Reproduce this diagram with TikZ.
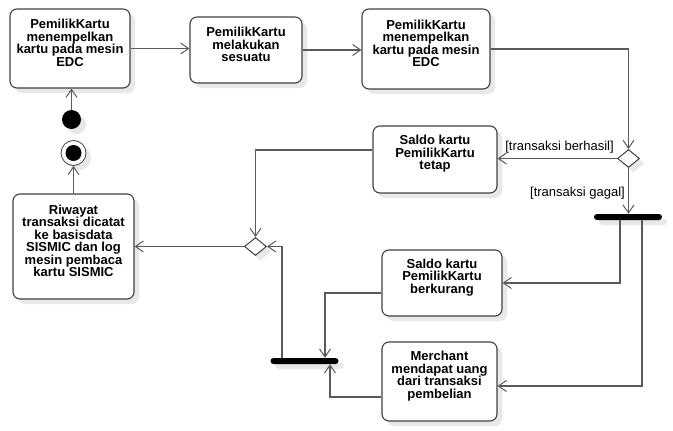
\documentclass[tikz,border=0pt]{standalone}
\usepackage{fontspec}
\setmainfont{Liberation Sans}
\usetikzlibrary{arrows.meta,shadows,shapes.geometric}
\definecolor{boxgray}{HTML}{404040}
\definecolor{linegray}{HTML}{5A5A5A}
\definecolor{shadowgray}{HTML}{E8E8E8}

\begin{document}
\begin{tikzpicture}[x=1pt,y=-1pt,
    softshadow/.style={drop shadow={shadow xshift=5pt,shadow yshift=-5pt,fill=shadowgray,opacity=1}},
    action/.style={rectangle,draw=boxgray,line width=1.1pt,rounded corners=7pt,fill=white,softshadow},
    acttext/.style={font=\bfseries\fontsize{13}{12.5}\selectfont,align=center,inner sep=0pt,yshift=5.5pt},
    decision/.style={diamond,draw=boxgray,line width=1pt,fill=white,inner sep=0pt,minimum width=22pt,minimum height=18pt,softshadow},
    syncbar/.style={rectangle,fill=black,rounded corners=3pt,inner sep=0pt,minimum width=68pt,minimum height=6pt,softshadow},
    guard/.style={font=\fontsize{13}{13}\selectfont,inner sep=0pt},
    flow/.style={draw=linegray,line width=1.1pt,-{Straight Barb[length=8pt,width=11pt,line width=1pt]}}]

    \useasboundingbox[fill=white] (0,0) rectangle (673,431);

    \node[action,minimum width=120pt,minimum height=79pt] (tempel) at (70,48.5) {};
    \node[action,minimum width=112pt,minimum height=66pt] (lakukan) at (246,50) {};
    \node[action,minimum width=128pt,minimum height=80pt] (tempelDua) at (426,49) {};
    \node[action,minimum width=124pt,minimum height=67pt] (tetap) at (435,159.5) {};
    \node[action,minimum width=121pt,minimum height=105pt] (riwayat) at (73.5,246.5) {};
    \node[action,minimum width=120pt,minimum height=66pt] (kurang) at (442,283) {};
    \node[action,minimum width=115pt,minimum height=79pt] (merchant) at (439.5,381.5) {};

    \node[acttext] (tempelTxt) at (tempel.center) {PemilikKartu\\menempelkan\\kartu pada mesin\\EDC};
    \node[acttext] (lakukanTxt) at (lakukan.center) {PemilikKartu\\melakukan\\sesuatu};
    \node[acttext] (tempelDuaTxt) at (tempelDua.center) {PemilikKartu\\menempelkan\\kartu pada mesin\\EDC};
    \node[acttext] (tetapTxt) at (tetap.center) {Saldo kartu\\PemilikKartu\\tetap};
    \node[acttext] (riwayatTxt) at (riwayat.center) {Riwayat\\transaksi dicatat\\ke basisdata\\SISMIC dan log\\mesin pembaca\\kartu SISMIC};
    \node[acttext] (kurangTxt) at (kurang.center) {Saldo kartu\\PemilikKartu\\berkurang};
    \node[acttext] (merchantTxt) at (merchant.center) {Merchant\\mendapat uang\\dari transaksi\\pembelian};

    \node[decision] (cekHasil) at (628.5,158.5) {};
    \node[decision] (gabung) at (255.5,246.5) {};
    \node[syncbar] (pecah) at (628,217) {};
    \node[syncbar] (satukan) at (304.5,361) {};

    \node[circle,fill=black,minimum size=19pt,inner sep=0pt,softshadow] (mulai) at (71.5,119.5) {};
    \node[circle,draw=boxgray,line width=0.8pt,fill=white,minimum size=25pt,inner sep=0pt,softshadow,
        path picture={\fill[black] (path picture bounding box.center) circle (8pt);}] (selesai) at (73.5,153) {};

    \node[guard] (berhasilTxt) at (559.5,147) {[transaksi berhasil]};
    \node[guard] (gagalTxt) at (577.5,193) {[transaksi gagal]};

    \draw[flow] (mulai) -- (mulai |- tempel.south);
    \draw[flow] (tempel.east) -- (tempel.east -| lakukan.west);
    \draw[flow] (lakukan.east) -- (lakukan.east -| tempelDua.west);
    \draw[flow] (tempelDua.east) -| (cekHasil.north);
    \draw[flow] (cekHasil.west) -- (cekHasil.west -| tetap.east);
    \draw[flow] (cekHasil.south) -- (cekHasil.south |- pecah.north);
    \draw[flow] ([xshift=-8pt]pecah.south) |- (kurang.east);
    \draw[flow] ([xshift=14pt]pecah.south) |- ([yshift=-4.5pt]merchant.east);
    \draw[flow] ([yshift=-10pt]kurang.west) -| ([xshift=20.5pt]satukan.north);
    \draw[flow] ([yshift=-15.5pt]merchant.west) -| ([xshift=25.5pt]satukan.south);
    \draw[flow] ([xshift=-22.5pt]satukan.north) |- (gabung.east);
    \draw[flow] ([yshift=9.5pt]tetap.west) -| (gabung.north);
    \draw[flow] (gabung.west) -- (gabung.west -| riwayat.east);
    \draw[flow] (riwayat.north) -- (selesai.south);
\end{tikzpicture}
\end{document}
